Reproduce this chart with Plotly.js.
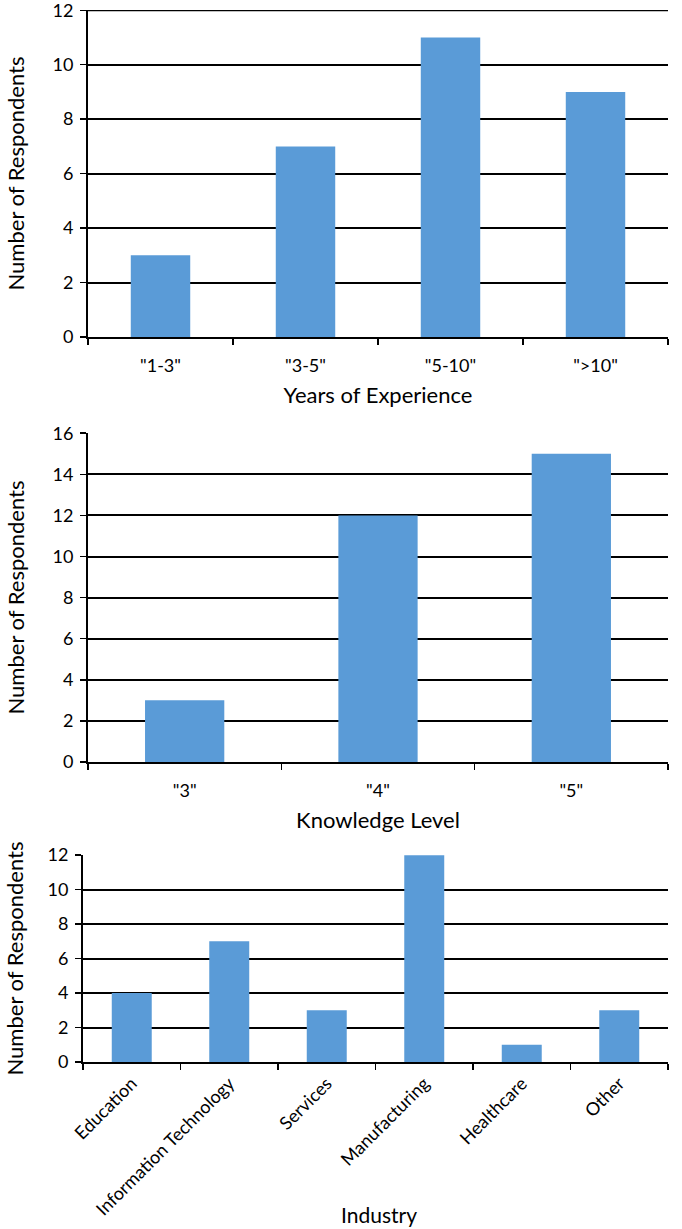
<!DOCTYPE html>
<html>
<head>
<meta charset="utf-8">
<script src="https://cdn.plot.ly/plotly-3.0.1.min.js"></script>
<style>html,body{margin:0;padding:0;background:#fff;}#chart{width:682px;height:1229px;}</style>
</head>
<body>
<div id="chart"></div>
<script>
// Data
const experienceCategories = ['"1-3"', '"3-5"', '"5-10"', '">10"'];
const experienceCounts = [3, 7, 11, 9];

const knowledgeCategories = ['"3"', '"4"', '"5"'];
const knowledgeCounts = [3, 12, 15];

const industryCategories = ['Education', 'Information Technology', 'Services', 'Manufacturing', 'Healthcare', 'Other'];
const industryCounts = [4, 7, 3, 12, 1, 3];

const experienceTicks = [0, 2, 4, 6, 8, 10, 12];
const knowledgeTicks = [0, 2, 4, 6, 8, 10, 12, 14, 16];
const industryTicks = [0, 2, 4, 6, 8, 10, 12];

const yTitle = 'Number of Respondents';
const xTitles = ['Years of Experience', 'Knowledge Level', 'Industry'];

const W = 682, H = 1229;
const barColor = '#5a9bd7';
const fontFam = 'Lato, "Open Sans", sans-serif';

function bar(x, y, xa, ya) {
  return {type: 'bar', x: x, y: y, xaxis: xa, yaxis: ya,
    marker: {color: barColor, line: {width: 0}}, hoverinfo: 'x+y', showlegend: false};
}

const traces = [
  bar(experienceCategories, experienceCounts, 'x', 'y'),
  bar(knowledgeCategories, knowledgeCounts, 'x2', 'y2'),
  bar(industryCategories, industryCounts, 'x3', 'y3')
];

function xa(dom, anchor, title, extra) {
  return Object.assign({
    domain: dom, anchor: anchor, type: 'category',
    showline: true, linecolor: '#000', linewidth: 2,
    ticks: 'outside', ticklen: 6, tickwidth: 1.5, tickcolor: '#000',
    tickson: 'boundaries', showgrid: false, zeroline: false,
    tickfont: {family: fontFam, size: 18, color: '#000'},
    ticklabelstandoff: 11, ticklabeloverflow: 'allow',
    title: {text: title, font: {family: fontFam, size: 22, color: '#000'}, standoff: 13},
    automargin: false, fixedrange: true
  }, extra || {});
}
function ya(dom, anchor, range, ticks, standoff) {
  return {
    domain: dom, anchor: anchor, range: range,
    tickmode: 'array', tickvals: ticks,
    showline: true, linecolor: '#000', linewidth: 2,
    ticks: 'outside', ticklen: 6, tickwidth: 1.5, tickcolor: '#000',
    showgrid: true, gridcolor: '#000', gridwidth: 2, zeroline: false,
    tickfont: {family: fontFam, size: 18, color: '#000'},
    ticklabelstandoff: 3, ticklabeloverflow: 'allow',
    title: {text: yTitle, font: {family: fontFam, size: 22, color: '#000'}, standoff: standoff},
    automargin: false, fixedrange: true
  };
}

const topExp = experienceTicks[experienceTicks.length - 1];

const layout = {
  width: W, height: H,
  margin: {l: 0, r: 0, t: 0, b: 0},
  paper_bgcolor: '#fff', plot_bgcolor: '#fff',
  bargap: 0.59,
  font: {family: fontFam, color: '#000'},
  xaxis: xa([88/W, 668/W], 'y', xTitles[0]),
  yaxis: ya([1-337/H, 1-10/H], 'x', [0, 12.01], experienceTicks, 22),
  xaxis2: xa([88/W, 668/W], 'y2', xTitles[1]),
  yaxis2: ya([1-762/H, 1-433/H], 'x2', [0, 16.01], knowledgeTicks, 22),
  xaxis3: xa([83/W, 668/W], 'y3', '', {tickangle: -45, ticklabelstandoff: 2}),
  yaxis3: ya([1-1062/H, 1-855/H], 'x3', [0, 12.01], industryTicks, 18),
  shapes: [{
    type: 'line', xref: 'x domain', yref: 'y', x0: 0, x1: 1, y0: topExp, y1: topExp,
    line: {color: '#000', width: 2}, layer: 'below'
  }],
  annotations: [{
    text: xTitles[2], xref: 'paper', yref: 'paper',
    x: 379/W, y: 1-1214/H, xanchor: 'center', yanchor: 'middle',
    showarrow: false, font: {family: fontFam, size: 21, color: '#000'}
  }]
};

Plotly.newPlot('chart', traces, layout, {displayModeBar: false, staticPlot: true});
</script>
</body>
</html>
